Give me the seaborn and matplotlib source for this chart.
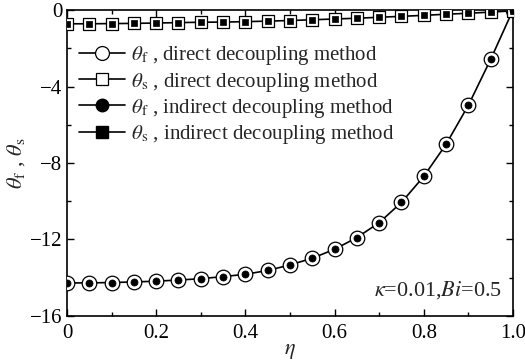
import matplotlib
matplotlib.use("Agg")
import matplotlib.pyplot as plt
import seaborn as sns
import numpy as np
from matplotlib.ticker import MultipleLocator
from matplotlib.lines import Line2D

eta = [0.0, 0.05, 0.1, 0.15, 0.2, 0.25, 0.3, 0.35, 0.4, 0.45, 0.5,
       0.55, 0.6, 0.65, 0.7, 0.75, 0.8, 0.85, 0.9, 0.95, 1.0]
theta_f = [-14.27, -14.27, -14.25, -14.22, -14.18, -14.12, -14.05, -13.94, -13.82, -13.62,
           -13.33, -12.98, -12.51, -11.90, -11.12, -10.06, -8.70, -7.02, -4.98, -2.58, 0.0]
theta_s = [-0.72, -0.72, -0.71, -0.70, -0.68, -0.66, -0.64, -0.63, -0.61, -0.58, -0.55,
           -0.51, -0.47, -0.43, -0.38, -0.33, -0.28, -0.22, -0.17, -0.11, -0.04]
labels = [r"$\theta_{\rm f}$ , direct decoupling method",
          r"$\theta_{\rm s}$ , direct decoupling method",
          r"$\theta_{\rm f}$ , indirect decoupling method",
          r"$\theta_{\rm s}$ , indirect decoupling method"]
xticks = [0, 0.2, 0.4, 0.6, 0.8, 1.0]
xticklabels = ["0", "0.2", "0.4", "0.6", "0.8", "1.0"]
yticks = [0, -4, -8, -12, -16]
yticklabels = ["0", "\u22124", "\u22128", "\u221212", "\u221216"]

sns.set_style("ticks")
plt.rcParams["font.family"] = ["Liberation Serif", "DejaVu Serif"]
plt.rcParams["mathtext.fontset"] = "stix"

fig = plt.figure(figsize=(5.25, 3.64), dpi=100)
ax = fig.add_axes([0.1276, 0.1319, 0.8495, 0.8406])

lw = 1.2
# lines
sns.lineplot(x=eta, y=theta_f, ax=ax, color="black", lw=lw, zorder=2)
sns.lineplot(x=eta, y=theta_s, ax=ax, color="black", lw=lw, zorder=2)
# direct method markers (open)
sns.scatterplot(x=eta, y=theta_f, ax=ax, marker="o", s=110, facecolor="white",
                edgecolor="black", linewidth=0.9, zorder=3)
sns.scatterplot(x=eta, y=theta_s, ax=ax, marker="s", s=75, facecolor="white",
                edgecolor="black", linewidth=0.9, zorder=3)
# indirect method markers (filled)
sns.scatterplot(x=eta, y=theta_f, ax=ax, marker="o", s=26, facecolor="black",
                edgecolor="black", linewidth=0.5, zorder=4)
sns.scatterplot(x=eta, y=theta_s, ax=ax, marker="s", s=18, facecolor="black",
                edgecolor="black", linewidth=0.5, zorder=4)

ax.set_xlim(0, 1.0)
ax.set_ylim(-16, 0)
ax.set_xticks(xticks)
ax.set_xticklabels(xticklabels)
ax.set_yticks(yticks)
ax.set_yticklabels(yticklabels)
ax.xaxis.set_minor_locator(MultipleLocator(0.1))
ax.yaxis.set_minor_locator(MultipleLocator(2))
ax.tick_params(which="both", direction="in", top=True, right=True, labelsize=15, width=1.0, colors="black")
ax.tick_params(which="major", length=5)
ax.tick_params(which="minor", length=3)
ax.tick_params(axis="x", pad=6)
for s in ax.spines.values():
    s.set_linewidth(1.2)
    s.set_color("black")
    s.set_visible(True)

ax.set_xlabel(r"$\eta$", fontsize=16, labelpad=-1)
ax.set_ylabel(r"$\theta_{\rm f}$ , $\theta_{\rm s}$", fontsize=16, labelpad=2)
ax.text(0.975, 0.05, r"$\kappa$=0.01,$Bi$=0.5", transform=ax.transAxes,
        ha="right", va="bottom", fontsize=16)

handles = [
    Line2D([], [], color="black", lw=lw, marker="o", markersize=10, mfc="white", mec="black", mew=0.9),
    Line2D([], [], color="black", lw=lw, marker="s", markersize=9, mfc="white", mec="black", mew=0.9),
    Line2D([], [], color="black", lw=lw, marker="o", markersize=9, mfc="black", mec="black"),
    Line2D([], [], color="black", lw=lw, marker="s", markersize=8, mfc="black", mec="black"),
]
leg = ax.legend(handles, labels, loc="upper left", bbox_to_anchor=(-0.005, 0.935), frameon=False,
                fontsize=15, handlelength=2.2, handletextpad=0.3, labelspacing=0.15,
                borderaxespad=0.3)

fig.savefig("out.png", dpi=100)
